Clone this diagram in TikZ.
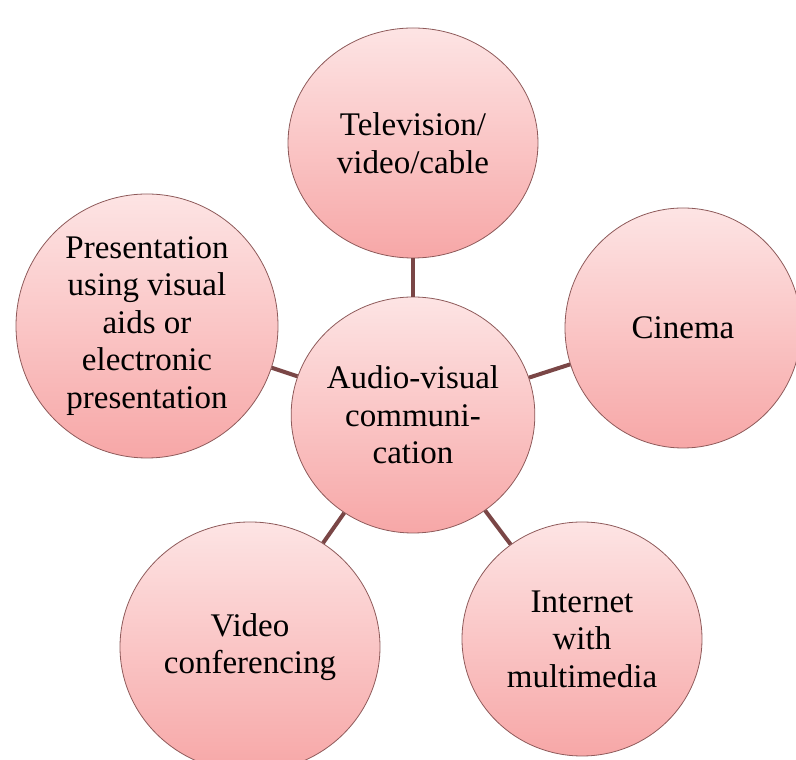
\documentclass[tikz,border=0pt]{standalone}
\usepackage{fontspec}
\setmainfont{Liberation Serif}
\usetikzlibrary{shapes.geometric}
\definecolor{bubbletop}{HTML}{FDE4E4}
\definecolor{bubblebot}{HTML}{F7A7A7}
\definecolor{rim}{HTML}{8E5A5A}
\definecolor{spoke}{HTML}{7A4646}

\begin{document}
\begin{tikzpicture}[x=1pt,y=1pt,
bubble/.style={ellipse,draw=rim,line width=0.8pt,top color=bubbletop,bottom color=bubblebot,inner sep=0pt,align=center,font=\fontsize{33}{37.5}\selectfont},
link/.style={draw=spoke,line width=4pt}]
\useasboundingbox (0,0) rectangle (796,760);
\node[bubble,minimum width=240pt,minimum height=236pt] (hub) at (413,345) {Audio-visual\\communi-\\cation};
\node[bubble,minimum width=250pt,minimum height=230pt] (tv) at (413,617) {Television/\\video/cable};
\node[bubble,minimum width=236pt,minimum height=240pt] (cinema) at (683,432) {Cinema};
\node[bubble,minimum width=262pt,minimum height=264pt] (slides) at (147,434) {Presentation\\using visual\\aids or\\electronic\\presentation};
\node[bubble,minimum width=260pt,minimum height=250pt] (confer) at (250,113) {Video\\conferencing};
\node[bubble,minimum width=240pt,minimum height=234pt] (web) at (582,121) {Internet\\with\\multimedia};
\draw[link] (hub) -- (tv);
\draw[link] (hub) -- (cinema);
\draw[link] (hub) -- (slides);
\draw[link] (hub) -- (confer);
\draw[link] (hub) -- (web);
\end{tikzpicture}
\end{document}
